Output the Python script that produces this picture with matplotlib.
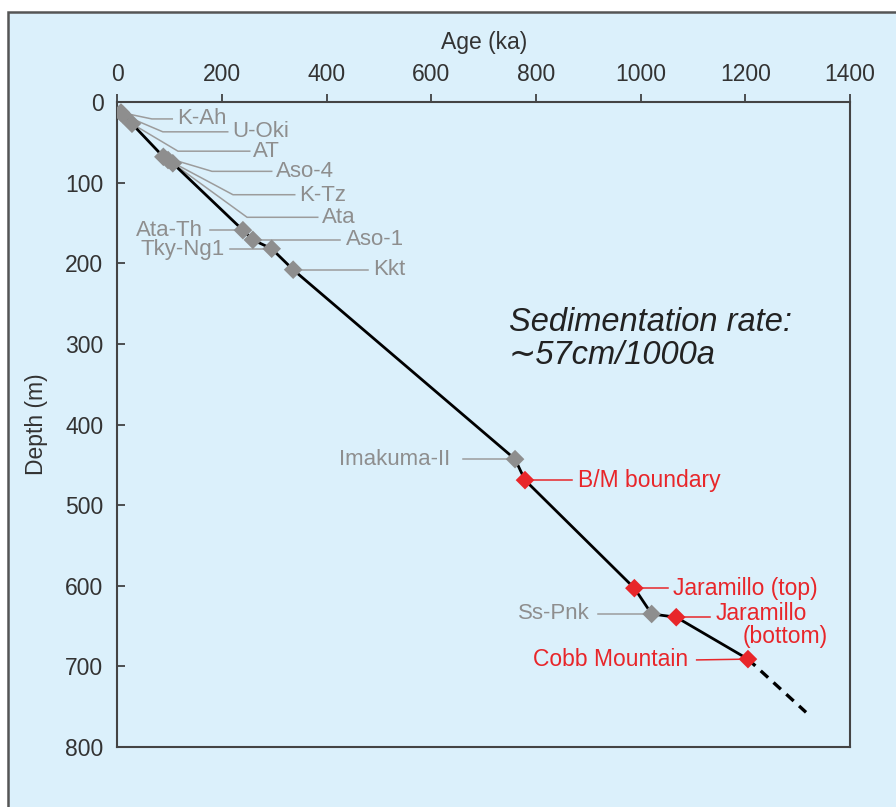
import matplotlib
matplotlib.use("Agg")
import matplotlib.pyplot as plt
from matplotlib.patches import Rectangle

plt.rcParams['font.family'] = ['Liberation Sans', 'DejaVu Sans']

# tephra markers (age ka, depth m)
tephra_names = ["K-Ah", "U-Oki", "AT", "Aso-4", "K-Tz", "Ata", "Ata-Th",
                "Aso-1", "Tky-Ng1", "Kkt", "Imakuma-II", "Ss-Pnk"]
tephra_age = [7, 11, 28, 88, 97, 106, 240, 259, 295, 336, 760, 1021]
tephra_depth = [13, 16, 27, 68, 72, 76, 159, 171, 182, 208, 443, 635]

# paleomagnetic events
mag_names = ["B/M boundary", "Jaramillo (top)", "Jaramillo (bottom)", "Cobb Mountain"]
mag_age = [779, 988, 1068, 1205]
mag_depth = [469, 603, 639, 691]

# dashed extrapolation below Cobb Mountain
ext_age = [1205, 1316]
ext_depth = [691, 757]

BG = "#dbf0fb"
GRAY = "#8e8e8e"
GRAYLINE = "#9c9c9c"
RED = "#e8262a"
DARK = "#333333"

fig = plt.figure(figsize=(8.96, 8.07), dpi=100)
fig.patch.set_facecolor("white")
fig.patches.append(Rectangle((8 / 896, -0.1), 1.2, 1 - 12 / 807 + 0.1,
                             transform=fig.transFigure, facecolor=BG,
                             edgecolor="#555555", lw=1.8, zorder=-10))

ax = fig.add_axes([117.3 / 896, 1 - 747 / 807, 732.7 / 896, 645 / 807])
ax.set_zorder(5)
ax.set_facecolor(BG)
ax.set_xlim(0, 1400)
ax.set_ylim(800, 0)
for s in ax.spines.values():
    s.set_color("#444444")
    s.set_linewidth(1.5)

ax.xaxis.tick_top()
ax.xaxis.set_label_position("top")
ax.set_xticks(range(0, 1401, 200))
ax.set_yticks(range(0, 801, 100))
ax.tick_params(axis="x", direction="out", length=5.5, width=1.2, pad=6,
               labelsize=16.5, colors=DARK)
ax.tick_params(axis="y", direction="in", length=6, width=1.2, pad=10,
               labelsize=16.5, colors=DARK)
ax.set_xlabel("Age (ka)", fontsize=16.5, color=DARK, labelpad=10)
ax.set_ylabel("Depth (m)", fontsize=16.5, color=DARK, labelpad=12)

# age-depth line
all_age = sorted(tephra_age + mag_age)
all_depth = sorted(tephra_depth + mag_depth)
ax.plot(all_age, all_depth, color="black", lw=2, zorder=3)
ax.plot(ext_age, ext_depth, color="black", lw=2.4, ls=(0, (3, 2.2)), zorder=3)

# leader lines: elbow/end points and label anchors (layout)
tephra_leader = [
    [(66, 21), (105, 21)],
    [(87, 37), (211, 37)],
    [(116, 61), (253, 61)],
    [(181, 86), (295, 86)],
    [(221, 115), (339, 115)],
    [(248, 143), (383, 143)],
    [(177, 159)],
    [(425, 171)],
    [(215, 182)],
    [(479, 208)],
    [(660, 443)],
    [(918, 635)],
]
tephra_text = [(114, 20, "left"), (219, 37, "left"), (259, 62, "left"),
               (303, 86, "left"), (347, 116, "left"), (391, 143, "left"),
               (164, 159, "right"), (437, 171, "left"), (206, 183, "right"),
               (489, 208, "left"), (636, 443, "right"), (903, 635, "right")]

for i, name in enumerate(tephra_names):
    pts = [(tephra_age[i], tephra_depth[i])] + tephra_leader[i]
    ax.plot([p[0] for p in pts], [p[1] for p in pts], color=GRAYLINE,
            lw=1.1, zorder=2)
    tx, ty, ha = tephra_text[i]
    ax.text(tx, ty, name, color=GRAY, fontsize=16, ha=ha, va="center")

mag_leader = [(868, 469), (1052, 603), (1132, 639), (1107, 692)]
for i, name in enumerate(mag_names):
    lx, ly = mag_leader[i]
    ax.plot([mag_age[i], lx], [mag_depth[i], ly], color=RED, lw=1.1, zorder=2)

ax.text(880, 469, "B/M boundary", color=RED, fontsize=16.5, ha="left", va="center")
ax.text(1061, 603, "Jaramillo (top)", color=RED, fontsize=16.5, ha="left", va="center")
ax.text(1144, 634, "Jaramillo", color=RED, fontsize=16.5, ha="left", va="center")
ax.text(1358, 663, "(bottom)", color=RED, fontsize=16.5, ha="right", va="center")
ax.text(1090, 692, "Cobb Mountain", color=RED, fontsize=16.5, ha="right", va="center")

ax.scatter(tephra_age, tephra_depth, marker="D", s=90, color=GRAY,
           edgecolors="none", zorder=4)
ax.scatter(mag_age, mag_depth, marker="D", s=90, color=RED,
           edgecolors="none", zorder=4)

ax.text(748, 273, "Sedimentation rate:", fontsize=23.5, style="italic",
        color="#222222", ha="left", va="center")
ax.text(748, 314, "\u223c57cm/1000a", fontsize=23.5, style="italic",
        color="#222222", ha="left", va="center")

fig.savefig("out.png", dpi=100, facecolor=fig.get_facecolor())
